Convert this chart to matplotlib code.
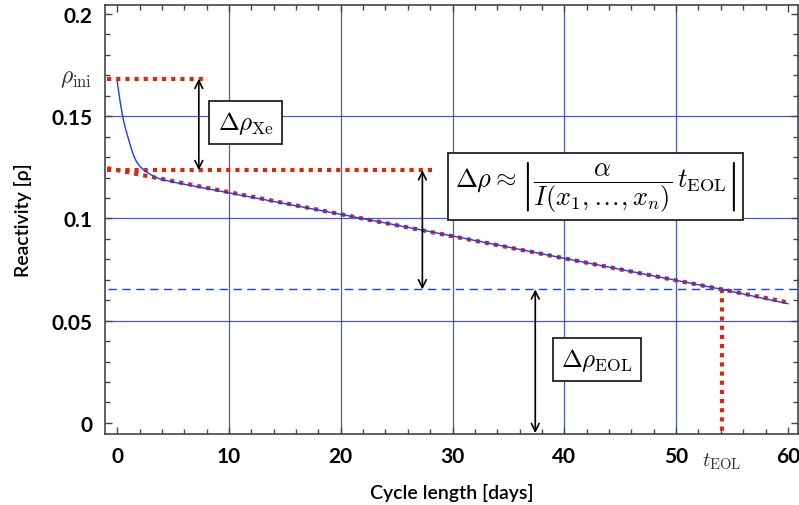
import matplotlib
matplotlib.use("Agg")
import matplotlib.pyplot as plt
from matplotlib.ticker import MultipleLocator, FixedLocator

plt.rcParams['mathtext.fontset'] = 'cm'
plt.rcParams['font.family'] = ['Lato', 'DejaVu Sans']

# ---- data ----
t_curve = [0, 0.25, 0.5, 0.75, 1.0, 1.25, 1.5, 1.75, 2.0, 2.25, 2.5, 3.0, 3.5, 4.0, 5.0, 10, 20, 30, 40, 50, 54.1, 60]
rho_curve = [0.1670, 0.1575, 0.1495, 0.1437, 0.1390, 0.1343, 0.1303, 0.1275, 0.1257, 0.1243, 0.1232, 0.1214,
             0.1200, 0.1190, 0.1178, 0.1125, 0.1020, 0.0914, 0.0805, 0.0697, 0.0653, 0.0583]

lin_t = [-0.9, 60.2]
lin_rho = [0.1246, 0.0587]

rho_ini = 0.1683
rho_lin0 = 0.1236
rho_eol = 0.0653
t_eol = 54.1

xticks = [0, 10, 20, 30, 40, 50, 60]
yticks = [0, 0.05, 0.1, 0.15, 0.2]
ytick_labels = ['0', '0.05', '0.1', '0.15', '0.2']
xgrid = [10, 20, 30, 40, 50]
ygrid = [0.05, 0.1, 0.15]

fig = plt.figure(figsize=(7.99, 5.06), dpi=100)
ax = fig.add_axes([0.132, 0.1413, 0.8667, 0.8468])
ax.set_xlim(-1.05, 60.9)
ax.set_ylim(-0.0052, 0.2044)

gridc = '#2a3fc0'
for g in xgrid:
    ax.axvline(g, color=gridc, lw=0.9, alpha=0.85, zorder=1)
for g in ygrid:
    ax.axhline(g, color=gridc, lw=0.9, alpha=0.85, zorder=1)

red = '#d42a10'
blue = '#1a3cff'
dot = (0, (1, 1.2))

# dashed EOL level
ax.plot([-0.85, 60.9], [rho_eol, rho_eol], color=blue, lw=1.0, ls=(0, (6, 4)), zorder=2)

# red dotted guides
ax.plot([-0.9, 8.1], [rho_ini, rho_ini], color=red, lw=3, ls=dot, zorder=3)
ax.plot([-0.9, 28.3], [rho_lin0, rho_lin0], color=red, lw=3, ls=dot, zorder=3)
ax.plot(lin_t, lin_rho, color=red, lw=3, ls=dot, zorder=3)
ax.plot([t_eol, t_eol], [rho_eol, -0.0052], color=red, lw=3, ls=dot, zorder=3)

# blue curve
ax.plot(t_curve, rho_curve, color=blue, lw=1.0, zorder=4)

# arrows
akw = dict(arrowstyle='<->', color='black', lw=1.2, mutation_scale=14, shrinkA=0, shrinkB=0)
ax.annotate('', xy=(7.3, rho_ini), xytext=(7.3, rho_lin0), arrowprops=akw, zorder=5)
ax.annotate('', xy=(27.3, rho_lin0), xytext=(27.3, rho_eol), arrowprops=akw, zorder=5)
ax.annotate('', xy=(37.4, rho_eol), xytext=(37.4, -0.0050), arrowprops=akw, zorder=5)

bbox = dict(boxstyle='square,pad=0.33', fc='white', ec='#222222', lw=1.3)
ax.text(11.5, 0.1470, r'$\Delta\rho_{\rm Xe}$', fontsize=18, ha='center', va='center', bbox=bbox, zorder=6)
ax.text(42.8, 0.1157, r'$\Delta\rho \approx \left|\dfrac{\alpha}{I(x_1,\ldots,x_n)}\,t_{\rm EOL}\right|$',
        fontsize=19, ha='center', va='center', bbox=dict(boxstyle='square,pad=0.25', fc='white', ec='#222222', lw=1.3),
        zorder=6)
ax.text(42.9, 0.0310, r'$\Delta\rho_{\rm EOL}$', fontsize=18, ha='center', va='center', bbox=bbox, zorder=6)

# ticks
ax.xaxis.set_major_locator(FixedLocator(xticks))
ax.yaxis.set_major_locator(FixedLocator(yticks))
ax.set_yticklabels(ytick_labels)
ax.xaxis.set_minor_locator(MultipleLocator(2))
ax.yaxis.set_minor_locator(MultipleLocator(0.01))
ax.tick_params(which='both', direction='in', top=True, right=True, color='#444444', width=1)
ax.tick_params(which='major', length=5, labelsize=15, pad=9)
ax.tick_params(which='minor', length=3.5)
for lab in ax.get_xticklabels() + ax.get_yticklabels():
    lab.set_fontweight('bold')
for s in ax.spines.values():
    s.set_color('#444444')
    s.set_linewidth(1.2)

ax.text(-2.2, rho_ini, r'$\rho_{\rm ini}$', fontsize=17, ha='right', va='center', color='#333333')
ax.text(t_eol, -0.0052 - 0.0085, r'$t_{\rm EOL}$', fontsize=15, ha='center', va='top', color='#333333')

ax.set_xlabel('Cycle length [days]', fontsize=14, labelpad=12, fontweight='semibold')
ax.set_ylabel('Reactivity [ρ]', fontsize=14, labelpad=14, fontweight='semibold')

fig.savefig('out.png', dpi=100)
